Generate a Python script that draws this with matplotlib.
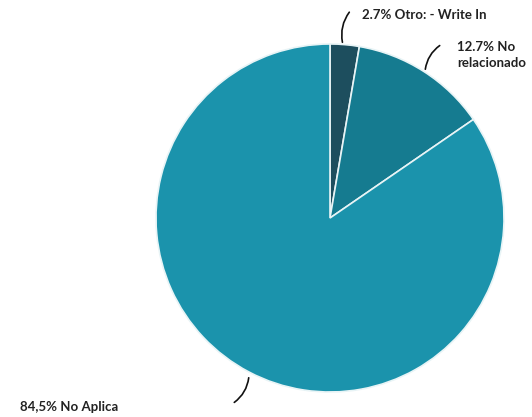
import matplotlib.pyplot as plt

labels = ["Otro: - Write In", "No relacionado", "No Aplica"]
shares = [2.7, 12.7, 84.5]
colors = ["#1d4e5e", "#157b90", "#1b93ac"]

W, H = 532, 417

fig = plt.figure(figsize=(W / 100, H / 100), dpi=100)
ax = fig.add_axes([0, 0, 1, 1])

ax.pie(
    shares,
    colors=colors,
    startangle=90,
    counterclock=False,
    center=(330, H - 218),
    radius=174,
    wedgeprops=dict(edgecolor="#e8f4f6", linewidth=1.2),
    frame=True,
)
ax.set_xlim(0, W)
ax.set_ylim(0, H)
ax.set_aspect("equal")
ax.axis("off")

font = dict(family=["Lato", "DejaVu Sans"], fontsize=9.5, fontweight="bold",
            color="#222222")

# label text, (text x, text y), leader start, leader end (pixel coords from top)
placements = [
    (f"{shares[0]}% {labels[0]}", (362, 15), (343, 45), (351, 10)),
    (f"{shares[1]}% No\n{labels[1].split()[1]}", (457, 55), (425, 72), (442, 44)),
    (f"{shares[2]}% {labels[2]}".replace("84.5", "84,5"), (20, 407), (249, 375), (232, 404)),
]

for text, (tx, ty), (x0, y0), (x1, y1) in placements:
    ax.text(tx, H - ty, text, ha="left", va="center", linespacing=1.45, **font)
    ax.annotate("", xy=(x1, H - y1), xytext=(x0, H - y0),
                arrowprops=dict(arrowstyle="-", color="#111111", lw=1.2,
                                connectionstyle="arc3,rad=-0.25"))

fig.savefig("out.png", dpi=100)
